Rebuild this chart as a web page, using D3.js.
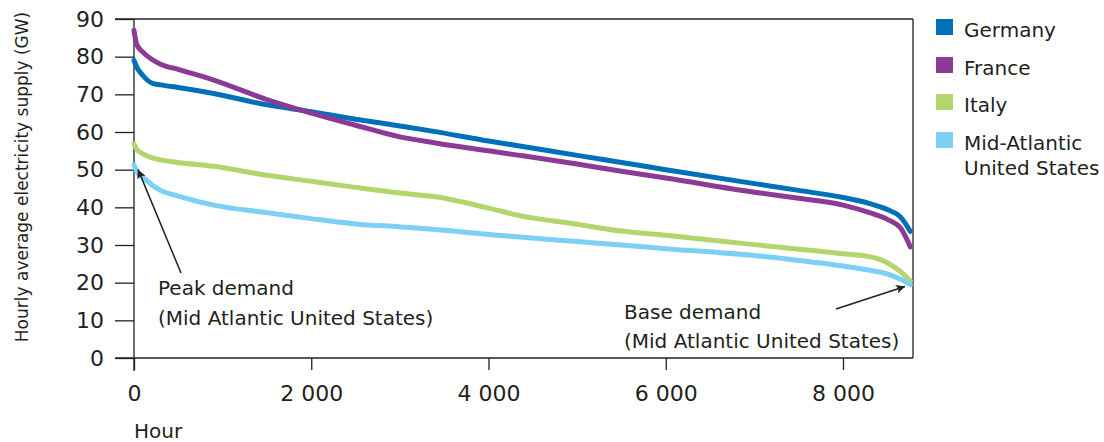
<!DOCTYPE html>
<html>
<head>
<meta charset="utf-8">
<script src="https://cdn.jsdelivr.net/npm/d3@7"></script>
<style>
  html, body { margin: 0; padding: 0; background: #fff; }
  svg text { font-family: "DejaVu Sans", sans-serif; fill: #231f20; }
</style>
</head>
<body>
<svg id="chart" width="1104" height="442"></svg>
<script>
const hours = [0, 30, 100, 200, 300, 500, 900, 1500, 2000, 2500, 3000, 3400, 4000, 4350, 5000, 5500, 6000, 7000, 7500, 8000, 8300, 8500, 8650, 8760];
const germany = [79.0, 77.3, 75.0, 73.0, 72.5, 71.8, 70.2, 67.2, 65.4, 63.4, 61.6, 60.1, 57.6, 56.3, 53.8, 51.9, 50.0, 46.3, 44.5, 42.6, 41.0, 39.4, 37.4, 33.6];
const france = [87.0, 83.3, 81.2, 79.3, 78.0, 76.6, 73.8, 68.6, 65.0, 61.8, 58.7, 57.1, 55.0, 53.8, 51.5, 49.6, 47.8, 44.0, 42.4, 40.6, 38.6, 36.8, 34.5, 29.5];
const italy = [56.8, 55.4, 54.2, 53.2, 52.6, 51.9, 50.9, 48.5, 46.9, 45.3, 43.8, 42.8, 39.8, 37.8, 35.5, 33.7, 32.6, 30.1, 28.9, 27.7, 26.9, 25.3, 22.9, 20.5];
const midAtlantic = [51.3, 49.5, 48.0, 46.0, 44.5, 43.0, 40.6, 38.6, 37.0, 35.6, 34.8, 34.1, 32.8, 32.1, 30.9, 30.0, 29.0, 27.2, 25.9, 24.4, 23.3, 22.3, 20.9, 19.5];

const seriesNames = ["Germany", "France", "Italy", "Mid-Atlantic\nUnited States"];
const seriesValues = [germany, france, italy, midAtlantic];
const seriesColors = ["#0070b8", "#8b3a96", "#b3d56d", "#7cd0f4"];

const yTicks = [0, 10, 20, 30, 40, 50, 60, 70, 80, 90];
const xTicks = [0, 2000, 4000, 6000, 8000];
const xTickLabels = ["0", "2 000", "4 000", "6 000", "8 000"];

const svg = d3.select("#chart");
const x = d3.scaleLinear().domain([0, 8790]).range([134, 913]);
const y = d3.scaleLinear().domain([0, 90]).range([358, 19]);
const axisColor = "#231f20";

// frame (top and right)
svg.append("line").attr("x1", 115).attr("x2", x(8790)).attr("y1", y(90)).attr("y2", y(90))
  .attr("stroke", axisColor).attr("stroke-width", 1.3);
svg.append("line").attr("x1", x(8790)).attr("x2", x(8790)).attr("y1", y(90)).attr("y2", y(0))
  .attr("stroke", axisColor).attr("stroke-width", 1.3);

// y axis
const yAxis = svg.append("g").attr("transform", `translate(${x(0)},0)`)
  .call(d3.axisLeft(y).tickValues(yTicks).tickSize(19).tickPadding(11).tickFormat(d3.format("d")));
yAxis.select(".domain").remove();
yAxis.selectAll(".tick line").attr("stroke", axisColor).attr("stroke-width", 1.3);
yAxis.selectAll(".tick text").style("font-size", "22px").attr("fill", axisColor);
svg.append("line").attr("x1", x(0)).attr("x2", x(0)).attr("y1", y(90)).attr("y2", y(0) + 13)
  .attr("stroke", axisColor).attr("stroke-width", 1.3);

// x axis
const xAxis = svg.append("g").attr("transform", `translate(0,${y(0)})`)
  .call(d3.axisBottom(x).tickValues(xTicks).tickSize(12).tickPadding(15).tickFormat((d, i) => xTickLabels[i]));
xAxis.select(".domain").remove();
xAxis.selectAll(".tick line").attr("stroke", axisColor).attr("stroke-width", 1.3);
xAxis.selectAll(".tick text").style("font-size", "22px").attr("fill", axisColor);
svg.append("line").attr("x1", 115).attr("x2", x(8790)).attr("y1", y(0)).attr("y2", y(0))
  .attr("stroke", axisColor).attr("stroke-width", 1.3);

// axis titles
svg.append("text").attr("x", 134).attr("y", 438).style("font-size", "20px").text("Hour");
svg.append("text").attr("transform", "translate(28,177) rotate(-90)")
  .attr("text-anchor", "middle").style("font-size", "17px").text("Hourly average electricity supply (GW)");

// lines
const line = d3.line().x((d, i) => x(hours[i])).y(d => y(d)).curve(d3.curveMonotoneX);
seriesValues.forEach((vals, k) => {
  svg.append("path").datum(vals).attr("d", line).attr("fill", "none")
    .attr("stroke", seriesColors[k]).attr("stroke-width", 5).attr("stroke-linecap", "round")
    .attr("stroke-linejoin", "round");
});

// arrows
const defs = svg.append("defs");
defs.append("marker").attr("id", "arrow").attr("viewBox", "0 0 10 10").attr("refX", 10).attr("refY", 5)
  .attr("markerWidth", 11).attr("markerHeight", 9).attr("markerUnits", "userSpaceOnUse").attr("orient", "auto")
  .append("path").attr("d", "M0,0 L10,5 L0,10 L2.5,5 Z").attr("fill", "#231f20");

svg.append("line").attr("x1", 181).attr("y1", 273).attr("x2", x(45)).attr("y2", y(50.6) + 2)
  .attr("stroke", "#231f20").attr("stroke-width", 1.5).attr("marker-end", "url(#arrow)");
svg.append("line").attr("x1", 836).attr("y1", 309).attr("x2", x(8700)).attr("y2", y(19.5) + 2)
  .attr("stroke", "#231f20").attr("stroke-width", 1.5).attr("marker-end", "url(#arrow)");

const ann = svg.append("g").style("font-size", "20px");
ann.append("text").attr("x", 158).attr("y", 295).text("Peak demand");
ann.append("text").attr("x", 158).attr("y", 325).text("(Mid Atlantic United States)");
ann.append("text").attr("x", 624).attr("y", 319).text("Base demand");
ann.append("text").attr("x", 624).attr("y", 348).text("(Mid Atlantic United States)");

// legend
const legendY = [19, 57, 94, 132];
seriesNames.forEach((name, k) => {
  const g = svg.append("g").attr("transform", `translate(936,${legendY[k]})`);
  g.append("rect").attr("width", 17).attr("height", 16).attr("fill", seriesColors[k]);
  const t = g.append("text").attr("x", 28).attr("y", 18).style("font-size", "20px");
  name.split("\n").forEach((part, j) => {
    t.append("tspan").attr("x", 28).attr("dy", j === 0 ? 0 : 25).text(part);
  });
});
</script>
</body>
</html>
